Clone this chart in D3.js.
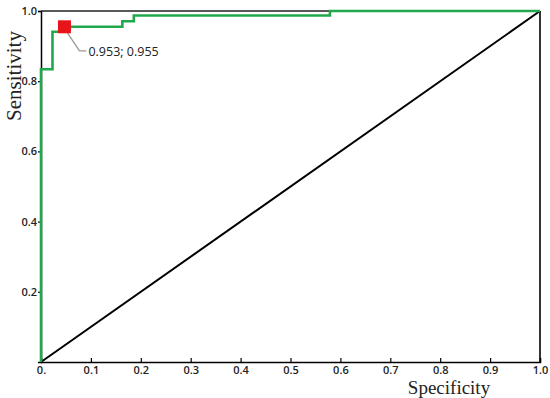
<!DOCTYPE html>
<html><head><meta charset="utf-8">
<script src="https://cdn.jsdelivr.net/npm/d3@7"></script>
<style>body{margin:0;background:#fff}svg{display:block}</style>
</head><body>
<svg id="c" width="550" height="398"></svg>
<script>
// ROC curve steps: [1 - specificity, sensitivity]
const rocX = [0, 0, 0.023, 0.023, 0.047, 0.047, 0.163, 0.163, 0.186, 0.186, 0.579, 0.579, 1.0];
const rocY = [0, 0.834, 0.834, 0.941, 0.941, 0.955, 0.955, 0.971, 0.971, 0.987, 0.987, 1.0, 1.0];
const cutoff = {x: 0.047, y: 0.955, label: "0.953; 0.955"};
const xTicks = [0, 0.1, 0.2, 0.3, 0.4, 0.5, 0.6, 0.7, 0.8, 0.9, 1.0];
const xTickLabels = ["0.", "0.1", "0.2", "0.3", "0.4", "0.5", "0.6", "0.7", "0.8", "0.9", "1.0"];
const yTicks = [0, 0.2, 0.4, 0.6, 0.8, 1.0];
const yTickLabels = ["0", "0.2", "0.4", "0.6", "0.8", "1.0"];

const svg = d3.select("#c");
const x = d3.scaleLinear().domain([0, 1]).range([41, 540]);
const y = d3.scaleLinear().domain([0, 1]).range([362, 11]);
const tickFont = "'Open Sans', 'DejaVu Sans', sans-serif";

// x axis
const xAxis = d3.axisBottom(x).tickValues(xTicks).tickSize(-4).tickPadding(4)
  .tickFormat((d, i) => xTickLabels[i]);
const gx = svg.append("g").attr("transform", `translate(0,${y(0)})`).call(xAxis);
gx.select(".domain").attr("stroke", "#000").attr("stroke-width", 1.5);
gx.selectAll(".tick line").attr("stroke", "#000").attr("stroke-width", 1.2);
gx.selectAll("text").attr("font-family", tickFont).attr("font-size", 11)
  .attr("font-weight", 600).attr("fill", "#222");

// y axis
const yAxis = d3.axisLeft(y).tickValues(yTicks).tickSize(3).tickPadding(1)
  .tickFormat((d, i) => yTickLabels[i]);
const gy = svg.append("g").attr("transform", `translate(${x(0)},0)`).call(yAxis);
gy.select(".domain").attr("stroke", "#000").attr("stroke-width", 1.5);
gy.selectAll(".tick line").attr("stroke", "#000").attr("stroke-width", 1.2);
gy.selectAll("text").attr("font-family", tickFont).attr("font-size", 11)
  .attr("font-weight", 600).attr("fill", "#222");
gy.selectAll(".tick").filter(d => d === 0).remove();

// top black line up to where curve reaches 1.0, right black frame
svg.append("line").attr("x1", x(0)).attr("x2", x(0.579)).attr("y1", y(1)).attr("y2", y(1))
  .attr("stroke", "#222").attr("stroke-width", 1.6);
svg.append("line").attr("x1", x(1)).attr("x2", x(1)).attr("y1", y(1)).attr("y2", y(0))
  .attr("stroke", "#000").attr("stroke-width", 1.6);

// diagonal reference
svg.append("line").attr("x1", x(0)).attr("y1", y(0)).attr("x2", x(1)).attr("y2", y(1))
  .attr("stroke", "#000").attr("stroke-width", 2);

// ROC curve
const pts = rocX.map((v, i) => [v, rocY[i]]);
svg.append("path").datum(pts)
  .attr("d", d3.line().x(d => x(d[0])).y(d => y(d[1])))
  .attr("fill", "none").attr("stroke", "#22a84c").attr("stroke-width", 2.6);

// leader line and label
const mx = x(cutoff.x), my = y(cutoff.y);
svg.append("polyline")
  .attr("points", `${mx + 3},${my + 6} ${mx + 15},${my + 24} ${mx + 22},${my + 24}`)
  .attr("fill", "none").attr("stroke", "#999").attr("stroke-width", 1.3);
svg.append("rect").attr("x", mx - 6.5).attr("y", my - 6.5).attr("width", 13).attr("height", 13)
  .attr("fill", "#e8141c");
svg.append("text").attr("x", mx + 24).attr("y", my + 29)
  .attr("font-family", tickFont).attr("font-size", 12.5).attr("fill", "#222")
  .text(cutoff.label);

// axis titles
svg.append("text").attr("transform", "translate(21,76) rotate(-90)")
  .attr("text-anchor", "middle").attr("font-family", "'Liberation Serif', 'Times New Roman', serif")
  .attr("font-size", 21).attr("fill", "#222").text("Sensitivity");
svg.append("text").attr("x", 449).attr("y", 394)
  .attr("text-anchor", "middle").attr("font-family", "'Liberation Serif', 'Times New Roman', serif")
  .attr("font-size", 19).attr("fill", "#222").text("Specificity");
</script>
</body></html>
